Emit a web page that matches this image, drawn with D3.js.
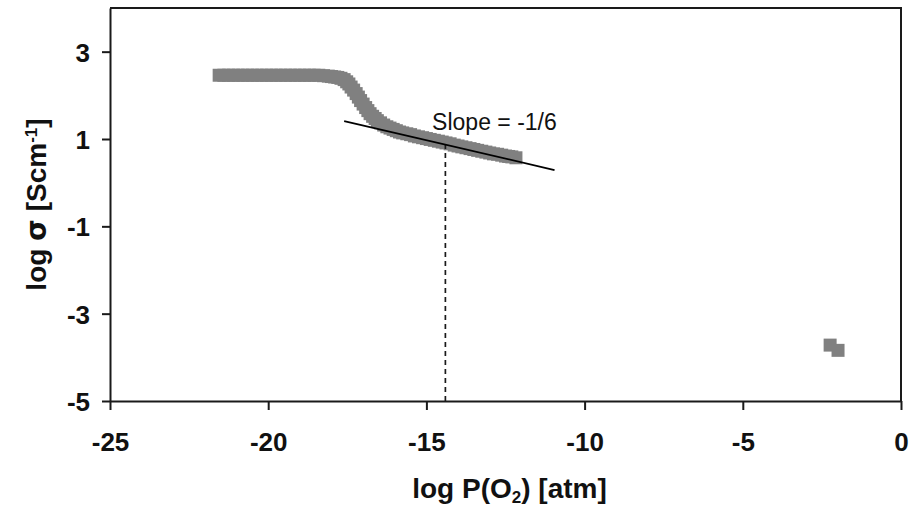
<!DOCTYPE html>
<html>
<head>
<meta charset="utf-8">
<script src="https://cdn.jsdelivr.net/npm/d3@7"></script>
<style>
  body { margin: 0; background: #fff; }
  svg { display: block; }
  text { font-family: "Liberation Sans", Arial, sans-serif; fill: #111; }
</style>
</head>
<body>
<svg id="chart" width="920" height="508"></svg>
<script>
// conductivity band, log P(O2) vs log sigma
const bandX = [
  -21.55, -21.4, -21.25, -21.1, -20.95, -20.8, -20.65, -20.5, -20.35, -20.2,
  -20.05, -19.9, -19.75, -19.6, -19.45, -19.3, -19.15, -19.0, -18.85, -18.7,
  -18.55, -18.4, -18.25, -18.1, -18.0, -17.9, -17.8, -17.7, -17.6, -17.52,
  -17.45, -17.38, -17.3, -17.22, -17.15, -17.08, -17.0, -16.92, -16.85, -16.78,
  -16.7, -16.62, -16.55, -16.45, -16.35, -16.25, -16.15, -16.05, -15.95, -15.85,
  -15.75, -15.62, -15.5, -15.38, -15.25, -15.12, -15.0, -14.88, -14.75, -14.62,
  -14.5, -14.38, -14.25, -14.12, -14.0, -13.88, -13.75, -13.62, -13.5, -13.38,
  -13.25, -13.12, -13.0, -12.88, -12.75, -12.62, -12.5, -12.4, -12.3, -12.17,
];
const bandY = [
  2.46, 2.46, 2.46, 2.46, 2.46, 2.46, 2.46, 2.46, 2.46, 2.46,
  2.46, 2.46, 2.46, 2.46, 2.46, 2.46, 2.46, 2.46, 2.46, 2.46,
  2.46, 2.46, 2.45, 2.44, 2.43, 2.42, 2.41, 2.39, 2.36, 2.31,
  2.26, 2.19, 2.12, 2.04, 1.96, 1.88, 1.8, 1.72, 1.65, 1.58,
  1.52, 1.47, 1.42, 1.37, 1.32, 1.28, 1.25, 1.22, 1.19, 1.16,
  1.14, 1.12, 1.1, 1.07, 1.05, 1.03, 1.01, 0.99, 0.97, 0.95,
  0.93, 0.91, 0.89, 0.86, 0.84, 0.82, 0.8, 0.78, 0.76, 0.74,
  0.72, 0.7, 0.68, 0.66, 0.65, 0.63, 0.61, 0.6, 0.59, 0.57,
];
const highX = [-2.24, -1.99];
const highY = [-3.72, -3.84];

const slopeLineX = [-17.6, -10.95];
const slopeLineY = [1.41, 0.29];
const markerX = -14.4;
const slopeLabel = "Slope = -1/6";

const xTicks = [-25, -20, -15, -10, -5, 0];
const yTicks = [-5, -3, -1, 1, 3];

const svg = d3.select("#chart");
const margin = { top: 8, right: 19, bottom: 107, left: 110 };
const width = 920 - margin.left - margin.right;
const height = 508 - margin.top - margin.bottom;

const x = d3.scaleLinear().domain([-25, 0]).range([margin.left, margin.left + width]);
const y = d3.scaleLinear().domain([-5, 4]).range([margin.top + height, margin.top]);

const lineColor = "#1a1a1a";

// frame (top + right)
svg.append("path")
  .attr("d", `M${x(-25)},${y(4)}H${x(0)}V${y(-5)}`)
  .attr("fill", "none")
  .attr("stroke", lineColor)
  .attr("stroke-width", 2);

const xAxis = svg.append("g")
  .attr("transform", `translate(0,${y(-5)})`)
  .call(d3.axisBottom(x).tickValues(xTicks).tickSize(9).tickSizeOuter(0));
xAxis.selectAll("text")
  .attr("y", 50)
  .attr("dy", null)
  .style("font-size", "26px")
  .style("font-weight", "bold")
  .text((d) => String(d));

const yAxis = svg.append("g")
  .attr("transform", `translate(${x(-25)},0)`)
  .call(d3.axisLeft(y).tickValues(yTicks).tickSize(8).tickSizeOuter(0));
yAxis.selectAll("text")
  .attr("x", -20)
  .attr("dy", "0.36em")
  .style("font-size", "26px")
  .style("font-weight", "bold")
  .text((d) => String(d));

svg.selectAll(".domain, .tick line")
  .attr("stroke", lineColor)
  .attr("stroke-width", 2);

// data markers
const sq = 13;
const band = bandX.map((v, i) => ({ x: v, y: bandY[i] }));
const high = highX.map((v, i) => ({ x: v, y: highY[i] }));

svg.append("g")
  .selectAll("rect")
  .data(band.concat(high))
  .join("rect")
  .attr("x", (d) => x(d.x) - sq / 2)
  .attr("y", (d) => y(d.y) - sq / 2)
  .attr("width", sq)
  .attr("height", sq)
  .attr("fill", "#808080");

// dashed marker line, up to the fit line
const fitAt = (v) =>
  slopeLineY[0] + ((v - slopeLineX[0]) * (slopeLineY[1] - slopeLineY[0])) / (slopeLineX[1] - slopeLineX[0]);

svg.append("line")
  .attr("x1", x(markerX))
  .attr("x2", x(markerX))
  .attr("y1", y(-5))
  .attr("y2", y(fitAt(markerX)))
  .attr("stroke", lineColor)
  .attr("stroke-width", 1.7)
  .attr("stroke-dasharray", "5,4");

// slope fit line
svg.append("line")
  .attr("x1", x(slopeLineX[0]))
  .attr("y1", y(slopeLineY[0]))
  .attr("x2", x(slopeLineX[1]))
  .attr("y2", y(slopeLineY[1]))
  .attr("stroke", "#000")
  .attr("stroke-width", 1.8);

svg.append("text")
  .attr("x", x(-14.82))
  .attr("y", y(1.21))
  .style("font-size", "23px")
  .text(slopeLabel);

// axis titles
const xTitle = svg.append("text")
  .attr("x", (x(-25) + x(0)) / 2 + 4)
  .attr("y", 498)
  .attr("text-anchor", "middle")
  .style("font-size", "28px")
  .style("font-weight", "bold");
xTitle.append("tspan").text("log P(O");
xTitle.append("tspan").attr("dy", 5).style("font-size", "17px").text("2");
xTitle.append("tspan").attr("dy", -5).text(") [atm]");

const yTitle = svg.append("text")
  .attr("transform", `translate(46,${(y(-5) + y(4)) / 2}) rotate(-90)`)
  .attr("text-anchor", "middle")
  .style("font-size", "28px")
  .style("font-weight", "bold");
yTitle.append("tspan").text("log ");
yTitle.append("tspan").style("font-family", "'DejaVu Sans', sans-serif").text("σ");
yTitle.append("tspan").text(" [Scm");
yTitle.append("tspan").attr("baseline-shift", "super").style("font-size", "17px").text("-1");
yTitle.append("tspan").text("]");
</script>
</body>
</html>
